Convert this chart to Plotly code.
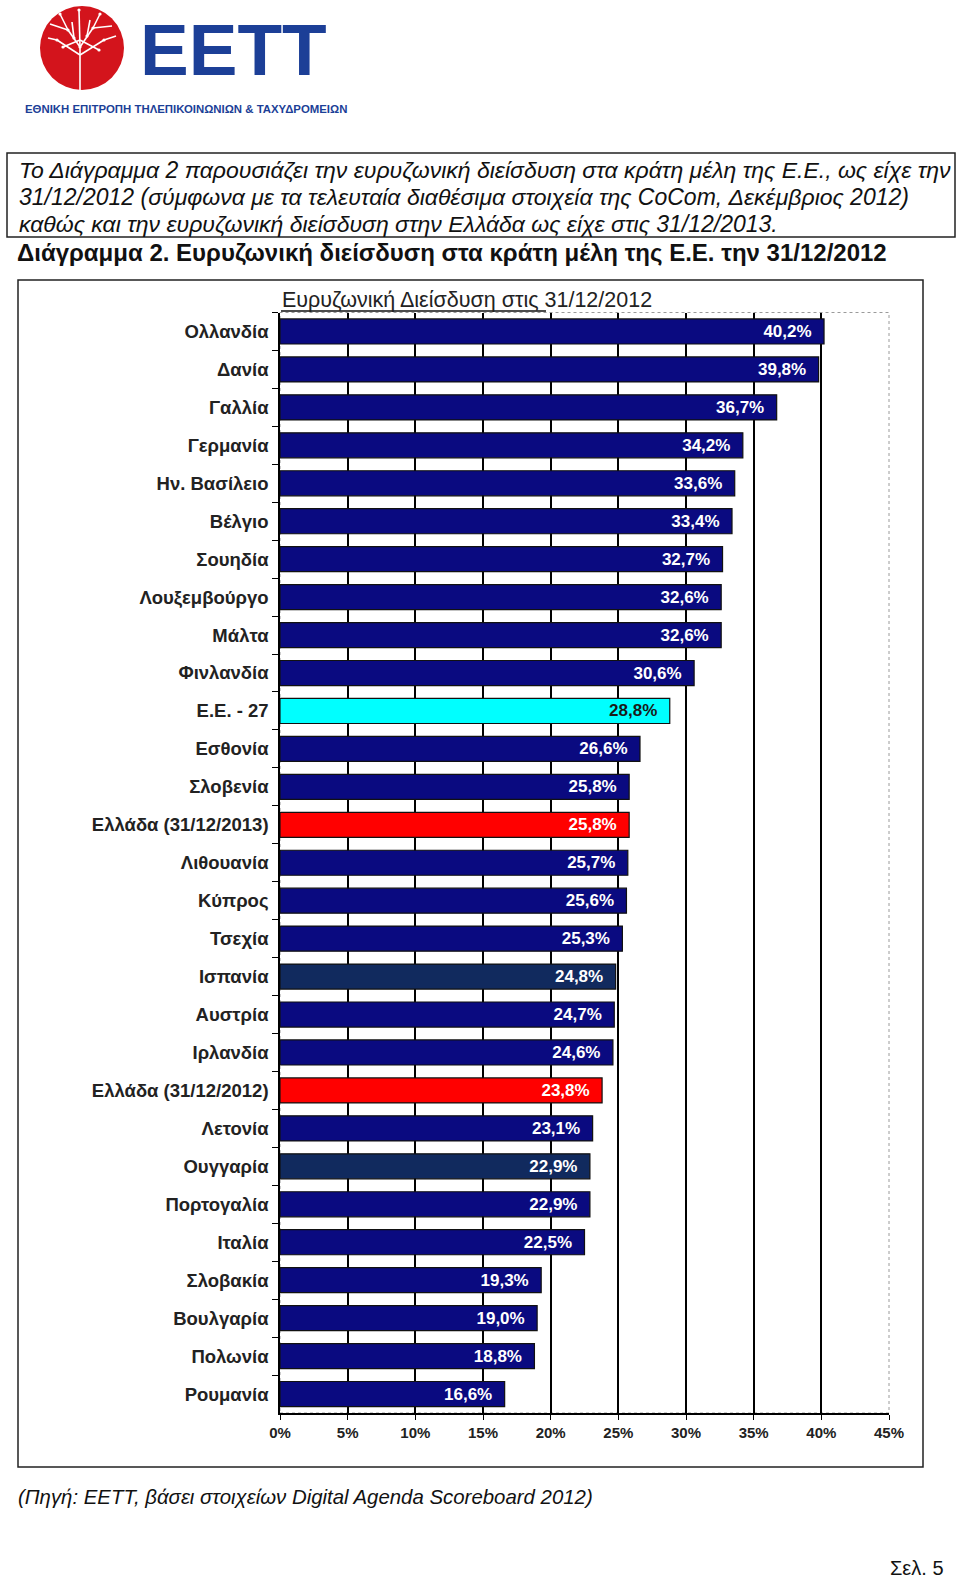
import plotly.graph_objects as go

W, H = 960, 1578

# ---------------- data ----------------
countries = ["Ολλανδία", "Δανία", "Γαλλία", "Γερμανία", "Ην. Βασίλειο", "Βέλγιο",
             "Σουηδία", "Λουξεμβούργο", "Μάλτα", "Φινλανδία", "Ε.Ε. - 27", "Εσθονία",
             "Σλοβενία", "Ελλάδα (31/12/2013)", "Λιθουανία", "Κύπρος", "Τσεχία",
             "Ισπανία", "Αυστρία", "Ιρλανδία", "Ελλάδα (31/12/2012)", "Λετονία",
             "Ουγγαρία", "Πορτογαλία", "Ιταλία", "Σλοβακία", "Βουλγαρία", "Πολωνία",
             "Ρουμανία"]
penetration = [40.2, 39.8, 36.7, 34.2, 33.6, 33.4, 32.7, 32.6, 32.6, 30.6, 28.8, 26.6,
               25.8, 25.8, 25.7, 25.6, 25.3, 24.8, 24.7, 24.6, 23.8, 23.1, 22.9, 22.9,
               22.5, 19.3, 19.0, 18.8, 16.6]
x_ticks = [0, 5, 10, 15, 20, 25, 30, 35, 40, 45]
x_tick_labels = ["0%", "5%", "10%", "15%", "20%", "25%", "30%", "35%", "40%", "45%"]

# ---------------- styles ----------------
NAVY = "#0a0a80"
STEEL = "#112a5e"
special_colors = {"Ε.Ε. - 27": "#00ffff",
                  "Ελλάδα (31/12/2013)": "#ff0000",
                  "Ελλάδα (31/12/2012)": "#ff0000",
                  "Ισπανία": STEEL, "Ουγγαρία": STEEL}
bar_colors = [special_colors.get(c, NAVY) for c in countries]
text_colors = ["#1a1a1a" if c == "Ε.Ε. - 27" else "white" for c in countries]
labels = [f"{v:.1f}%".replace(".", ",") + "\u00a0\u00a0" for v in penetration]


def px(x):
    return x / W


def py(y):
    return 1 - y / H


fig = go.Figure()
fig.add_trace(go.Bar(
    y=countries, x=penetration, orientation="h",
    marker=dict(color=bar_colors, line=dict(color="#111111", width=1.2)),
    width=0.66,
    text=labels, textposition="inside", insidetextanchor="end",
    textfont=dict(family="Liberation Sans, Arial", size=17, color=text_colors, weight="bold"),
    constraintext="none", cliponaxis=False,
    hoverinfo="x+y",
))

plot_left, plot_right = 280, 889
plot_top, plot_bottom = 312.5, 1413

fig.update_layout(
    template="none",
    width=W, height=H,
    margin=dict(l=0, r=0, t=0, b=0, pad=0, autoexpand=False),
    paper_bgcolor="white", plot_bgcolor="white",
    showlegend=False,
    bargap=0.34,
    font=dict(family="Liberation Sans, Arial", color="#222222"),
    xaxis=dict(
        domain=[px(plot_left), px(plot_right)], automargin=False,
        range=[0, 45], tickvals=x_ticks, ticktext=x_tick_labels,
        showgrid=True, gridcolor="#000000", gridwidth=1.5,
        showline=True, linecolor="#000000", linewidth=1.5,
        ticks="outside", ticklen=5, tickcolor="#000000",
        tickfont=dict(size=15, color="#222222", weight="bold"),
        ticklabelstandoff=0, zeroline=False, fixedrange=True,
    ),
    yaxis=dict(
        domain=[py(plot_bottom), py(plot_top)], automargin=False,
        autorange="reversed", type="category",
        showgrid=False,
        showline=True, linecolor="#000000", linewidth=1.5,
        ticks="outside", ticklen=6, tickcolor="#000000", tickson="boundaries",
        tickfont=dict(size=18.5, color="#222222", weight="bold"),
        ticklabelstandoff=6, fixedrange=True,
    ),
)

shapes = []
# dashed plot-area frame (top / right)
shapes.append(dict(type="rect", xref="x domain", yref="y domain", x0=0, x1=1, y0=0, y1=1,
                   line=dict(color="#9a9a9a", width=1, dash="dot"), layer="below"))
# chart outer frame
shapes.append(dict(type="rect", xref="paper", yref="paper",
                   x0=px(18), x1=px(923), y0=py(280), y1=py(1467),
                   line=dict(color="#222222", width=1.5)))
# text box frame
shapes.append(dict(type="rect", xref="paper", yref="paper",
                   x0=px(7), x1=px(955), y0=py(153), y1=py(237),
                   line=dict(color="#222222", width=1.5)))
# title underline
shapes.append(dict(type="line", xref="paper", yref="paper",
                   x0=px(281), x1=px(546), y0=py(311), y1=py(311),
                   line=dict(color="#111111", width=1.5)))
# logo circle
shapes.append(dict(type="circle", xref="paper", yref="paper",
                   x0=px(40), x1=px(124), y0=py(90), y1=py(6),
                   fillcolor="#d3141c", line=dict(width=0)))
# logo tree (white branches)
tree = [((80, 90), (80, 47)), ((80, 47), (68, 30)), ((68, 30), (60, 14)),
        ((80, 47), (93, 28)), ((93, 28), (100, 14)), ((80, 47), (79, 10)),
        ((80, 55), (57, 40)), ((80, 55), (104, 40)), ((68, 30), (50, 24)),
        ((93, 28), (112, 26)), ((80, 40), (63, 47)), ((80, 40), (99, 50)),
        ((74, 38), (72, 22)), ((87, 36), (90, 20)), ((57, 40), (48, 38)),
        ((104, 40), (116, 36))]
for (xa, ya), (xb, yb) in tree:
    shapes.append(dict(type="line", xref="paper", yref="paper",
                       x0=px(xa), y0=py(ya), x1=px(xb), y1=py(yb),
                       line=dict(color="white", width=1.6)))
for (xn, yn) in [(68, 30), (93, 28), (57, 40), (104, 40), (80, 47), (74, 38), (87, 36),
                 (63, 47), (99, 50), (79, 10), (60, 14), (100, 14)]:
    shapes.append(dict(type="circle", xref="paper", yref="paper",
                       x0=px(xn - 1.6), x1=px(xn + 1.6), y0=py(yn + 1.6), y1=py(yn - 1.6),
                       fillcolor="white", line=dict(width=0)))
fig.update_layout(shapes=shapes)

ann = []


def text(x, y, s, size, color="#111111", xanchor="left", italic=False, bold=False,
         family="Liberation Sans, Arial"):
    ann.append(dict(xref="paper", yref="paper", x=px(x), y=py(y), text=s,
                    showarrow=False, xanchor=xanchor, yanchor="middle",
                    font=dict(family=family, size=size, color=color,
                              style="italic" if italic else "normal",
                              weight="bold" if bold else "normal")))


# logo text
text(138, 50, "ΕΕΤΤ", 73, color="#1c3f97", bold=True)
text(23, 109, "ΕΘΝΙΚΗ ΕΠΙΤΡΟΠΗ ΤΗΛΕΠΙΚΟΙΝΩΝΙΩΝ &amp; ΤΑΧΥΔΡΟΜΕΙΩΝ", 11.4,
     color="#1c3f97", bold=True)

# intro paragraph
para = ["Το Διάγραμμα 2 παρουσιάζει την ευρυζωνική διείσδυση στα κράτη μέλη της Ε.Ε., ως είχε την",
        "31/12/2012 (σύμφωνα με τα τελευταία διαθέσιμα στοιχεία της CoCom, Δεκέμβριος 2012)",
        "καθώς και την ευρυζωνική διείσδυση στην Ελλάδα ως είχε στις 31/12/2013."]
for i, line in enumerate(para):
    text(17, 170 + 27 * i, line, 23, italic=True)

text(15, 252, "Διάγραμμα 2. Ευρυζωνική διείσδυση στα κράτη μέλη της Ε.Ε. την 31/12/2012",
     24, bold=True)

# chart title
text(280, 300, "Ευρυζωνική Διείσδυση στις 31/12/2012", 21.5, color="#222222")

# source & page number
text(16, 1497, "(Πηγή: ΕΕΤΤ, βάσει στοιχείων Digital Agenda Scoreboard 2012)", 20.4, italic=True)
text(946, 1568, "Σελ. 5", 20, xanchor="right")

fig.update_layout(annotations=ann)

fig.write_html("out.html", config={"displayModeBar": False},
               post_script="document.body.style.margin='0';document.body.style.padding='0';"
                           "document.body.style.overflow='hidden';")
